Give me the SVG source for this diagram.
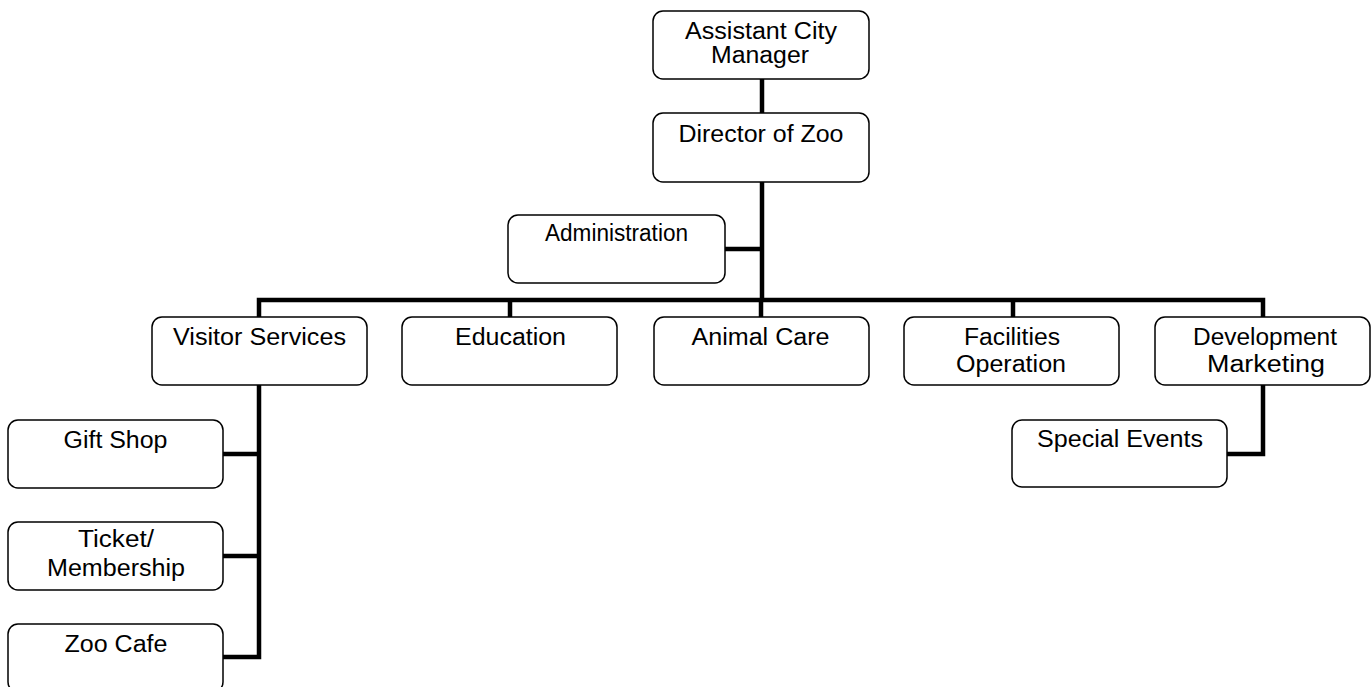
<svg xmlns="http://www.w3.org/2000/svg" width="1372" height="687" viewBox="0 0 1372 687">
<style>
.box{fill:#fff;stroke:#000;stroke-width:1.5}
.t{font-family:"Liberation Sans",Arial,sans-serif;font-size:23px;fill:#000;text-anchor:middle}
.c{fill:none;stroke:#000;stroke-width:4.5;stroke-linejoin:miter;stroke-linecap:butt}
</style>
<rect width="1372" height="687" fill="#fff"/>
<g id="connectors">
<path class="c" d="M762,79V113"/>
<path class="c" d="M762,182V300"/>
<path class="c" d="M725,249H762"/>
<path class="c" d="M259,317V300H1263V317"/>
<path class="c" d="M510,300V317"/>
<path class="c" d="M761,300V317"/>
<path class="c" d="M1013,300V317"/>
<path class="c" d="M259,385V657H223"/>
<path class="c" d="M223,454H259"/>
<path class="c" d="M223,556H259"/>
<path class="c" d="M1263,385V454H1227"/>
</g>
<g id="acm"><rect class="box" x="653" y="11" width="216" height="68" rx="10"/><text class="t" x="761" y="39" textLength="152" lengthAdjust="spacingAndGlyphs">Assistant City</text><text class="t" x="760" y="63" textLength="98" lengthAdjust="spacingAndGlyphs">Manager</text></g>
<g id="director"><rect class="box" x="653" y="113" width="216" height="69" rx="10"/><text class="t" x="761" y="142" textLength="165" lengthAdjust="spacingAndGlyphs">Director of Zoo</text></g>
<g id="admin"><rect class="box" x="508" y="215" width="217" height="68" rx="10"/><text class="t" x="616.5" y="241" textLength="143" lengthAdjust="spacingAndGlyphs">Administration</text></g>
<g id="visitor"><rect class="box" x="152" y="317" width="215" height="68" rx="10"/><text class="t" x="259.5" y="345" textLength="173" lengthAdjust="spacingAndGlyphs">Visitor Services</text></g>
<g id="education"><rect class="box" x="402" y="317" width="215" height="68" rx="10"/><text class="t" x="510.5" y="345" textLength="111" lengthAdjust="spacingAndGlyphs">Education</text></g>
<g id="animal"><rect class="box" x="654" y="317" width="215" height="68" rx="10"/><text class="t" x="760.5" y="345" textLength="138" lengthAdjust="spacingAndGlyphs">Animal Care</text></g>
<g id="facilities"><rect class="box" x="904" y="317" width="215" height="68" rx="10"/><text class="t" x="1012" y="345" textLength="96" lengthAdjust="spacingAndGlyphs">Facilities</text><text class="t" x="1011" y="372" textLength="110" lengthAdjust="spacingAndGlyphs">Operation</text></g>
<g id="development"><rect class="box" x="1155" y="317" width="215" height="68" rx="10"/><text class="t" x="1265" y="345" textLength="144" lengthAdjust="spacingAndGlyphs">Development</text><text class="t" x="1266" y="372" textLength="118" lengthAdjust="spacingAndGlyphs">Marketing</text></g>
<g id="giftshop"><rect class="box" x="8" y="420" width="215" height="68" rx="10"/><text class="t" x="115.5" y="448" textLength="104" lengthAdjust="spacingAndGlyphs">Gift Shop</text></g>
<g id="ticket"><rect class="box" x="8" y="522" width="215" height="68" rx="10"/><text class="t" x="116" y="547" textLength="76" lengthAdjust="spacingAndGlyphs">Ticket/</text><text class="t" x="116" y="576" textLength="138" lengthAdjust="spacingAndGlyphs">Membership</text></g>
<g id="zoocafe"><rect class="box" x="8" y="624" width="215" height="68" rx="10"/><text class="t" x="116" y="652" textLength="103" lengthAdjust="spacingAndGlyphs">Zoo Cafe</text></g>
<g id="specialevents"><rect class="box" x="1012" y="420" width="215" height="67" rx="10"/><text class="t" x="1120" y="447" textLength="166" lengthAdjust="spacingAndGlyphs">Special Events</text></g>
</svg>
